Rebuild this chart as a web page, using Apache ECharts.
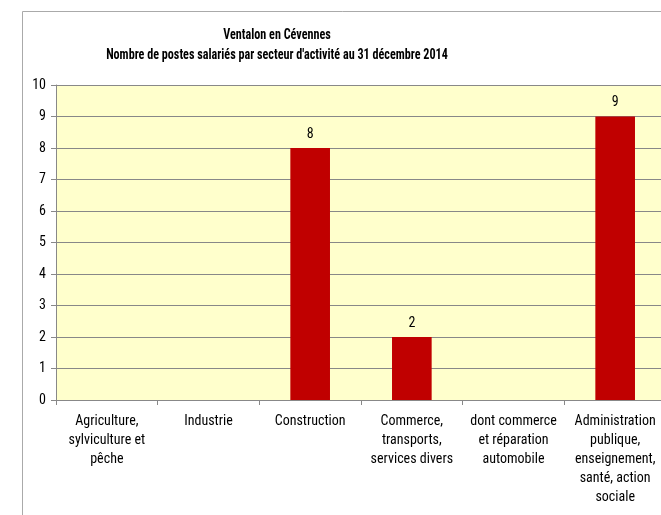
<!DOCTYPE html>
<html><head><meta charset="utf-8">
<script src="https://cdn.jsdelivr.net/npm/echarts@6/dist/echarts.min.js"></script>
<style>html,body{margin:0;padding:0;background:#fff}#c{width:661px;height:515px}</style>
</head><body><div id="c"></div>
<script>
const categories = ["Agriculture,\nsylviculture et\npêche", "Industrie", "Construction", "Commerce,\ntransports,\nservices divers", "dont commerce\net réparation\nautomobile", "Administration\npublique,\nenseignement,\nsanté, action\nsociale"];
const values = [0, 0, 8, 2, 0, 9];
const titleLines = ["Ventalon en Cévennes", "Nombre de postes salariés par secteur d'activité au 31 décembre 2014"];
const FONT = "'Roboto Condensed', 'DejaVu Sans Condensed', sans-serif";
const chart = echarts.init(document.getElementById('c'), null, {renderer: 'canvas'});
chart.setOption({
  animation: false,
  backgroundColor: '#fff',
  graphic: [
    {type: 'rect', shape: {x: 22.5, y: 11.5, width: 700, height: 600}, style: {fill: 'none', stroke: '#aaaaaa', lineWidth: 1}, z: -1},
    {type: 'text', x: 277, y: 28, scaleX: 0.81, style: {text: titleLines[0], x: 0, y: 0, font: 'bold 15px ' + FONT, fill: '#000', textAlign: 'center'}},
    {type: 'text', x: 277, y: 48, scaleX: 0.81, style: {text: titleLines[1], x: 0, y: 0, font: 'bold 15px ' + FONT, fill: '#000', textAlign: 'center'}}
  ],
  grid: {left: 56, width: 610, top: 85, bottom: 115, show: true, backgroundColor: '#FFFFCC', borderWidth: 0, outerBoundsMode: 'none', containLabel: false},
  xAxis: {
    type: 'category', data: categories,
    axisLine: {lineStyle: {color: '#888', width: 1}},
    axisTick: {show: true, inside: false, length: 5, alignWithLabel: false, lineStyle: {color: '#888'}},
    axisLabel: {interval: 0, color: '#000', fontFamily: FONT, fontSize: 14, lineHeight: 19, margin: 12, align: 'center', verticalAlign: 'top'}
  },
  yAxis: {
    type: 'value', min: 0, max: 10, interval: 1,
    axisLine: {show: true, lineStyle: {color: '#888', width: 1}},
    axisTick: {show: true, length: 5, lineStyle: {color: '#888'}},
    axisLabel: {color: '#000', fontFamily: FONT, fontSize: 14, margin: 10},
    splitLine: {show: true, lineStyle: {color: '#888', width: 1}}
  },
  series: [{
    type: 'bar', data: values, barWidth: '39%',
    itemStyle: {color: '#C00000'},
    label: {show: true, position: 'top', distance: 7, color: '#000', fontFamily: FONT, fontSize: 14,
      formatter: p => p.value === 0 ? '' : String(p.value)}
  }]
});
</script></body></html>
